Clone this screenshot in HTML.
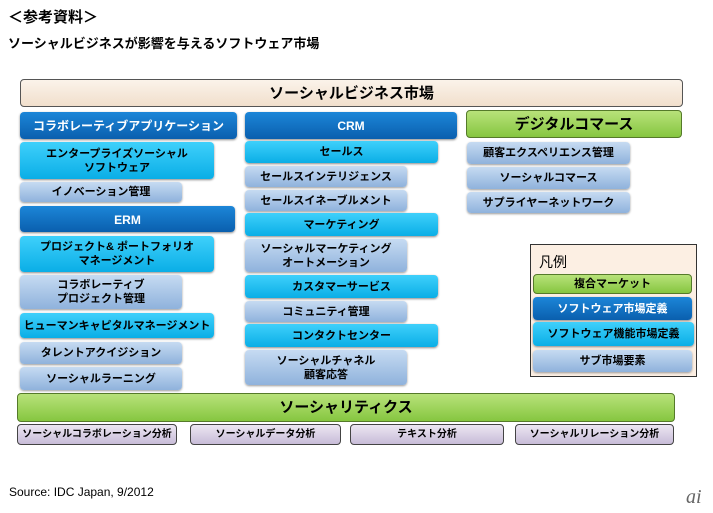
<!DOCTYPE html>
<html><head><meta charset="utf-8"><style>
body{margin:0;width:713px;height:513px;background:#fff;position:relative;overflow:hidden;font-family:"Liberation Sans","Noto Sans CJK JP",sans-serif;}
.b{position:absolute;display:flex;align-items:center;justify-content:center;text-align:center;font-weight:bold;box-sizing:border-box;border-radius:4px;line-height:1.25;font-size:11px;padding-top:2px;}
.d{background:linear-gradient(#1c86d8,#0a5fae);color:#fff;box-shadow:0 1px 2px #888;font-size:12px;}
.c{background:linear-gradient(#3fd0fb,#0aaee6);color:#000;box-shadow:0 1px 2px #888;}
.l{background:linear-gradient(#c6dbf2,#8fb2dc);color:#000;box-shadow:0 1px 2px #999;}
.g{background:linear-gradient(#b8e27a,#86c640);border:1px solid #557a2a;color:#000;}
.p{background:linear-gradient(#ece6f2,#c8bcd8);border:1px solid #444;color:#000;font-size:10px;}
.t{position:absolute;font-weight:bold;color:#000;}
</style></head><body>
<div class="t" style="left:8px;top:6px;font-size:15px;">＜参考資料＞</div>
<div class="t" style="left:8px;top:33px;font-size:13px;">ソーシャルビジネスが影響を与えるソフトウェア市場</div>

<div class="b" style="left:20px;top:79px;width:663px;height:28px;background:linear-gradient(#fbf3ea,#f1dfcc);border:1px solid #555;font-size:15px;">ソーシャルビジネス市場</div>

<div class="b d" style="left:20px;top:112px;width:217px;height:27px;">コラボレーティブアプリケーション</div>
<div class="b d" style="left:245px;top:112px;width:212px;height:27px;">CRM</div>
<div class="b g" style="left:466px;top:110px;width:216px;height:28px;font-size:15px;">デジタルコマース</div>

<div class="b c" style="left:20px;top:142px;width:194px;height:37px;">エンタープライズソーシャル<br>ソフトウェア</div>
<div class="b l" style="left:20px;top:182px;width:162px;height:20px;">イノベーション管理</div>
<div class="b d" style="left:20px;top:206px;width:215px;height:26px;">ERM</div>
<div class="b c" style="left:20px;top:236px;width:194px;height:36px;">プロジェクト&amp; ポートフォリオ<br>マネージメント</div>
<div class="b l" style="left:20px;top:275px;width:162px;height:34px;">コラボレーティブ<br>プロジェクト管理</div>
<div class="b c" style="left:20px;top:313px;width:194px;height:25px;">ヒューマンキャピタルマネージメント</div>
<div class="b l" style="left:20px;top:342px;width:162px;height:22px;">タレントアクイジション</div>
<div class="b l" style="left:20px;top:367px;width:162px;height:23px;">ソーシャルラーニング</div>

<div class="b c" style="left:245px;top:141px;width:193px;height:22px;">セールス</div>
<div class="b l" style="left:245px;top:166px;width:162px;height:21px;">セールスインテリジェンス</div>
<div class="b l" style="left:245px;top:190px;width:162px;height:21px;">セールスイネーブルメント</div>
<div class="b c" style="left:245px;top:213px;width:193px;height:23px;">マーケティング</div>
<div class="b l" style="left:245px;top:239px;width:162px;height:33px;">ソーシャルマーケティング<br>オートメーション</div>
<div class="b c" style="left:245px;top:275px;width:193px;height:23px;">カスタマーサービス</div>
<div class="b l" style="left:245px;top:301px;width:162px;height:21px;">コミュニティ管理</div>
<div class="b c" style="left:245px;top:324px;width:193px;height:23px;">コンタクトセンター</div>
<div class="b l" style="left:245px;top:350px;width:162px;height:35px;">ソーシャルチャネル<br>顧客応答</div>

<div class="b l" style="left:467px;top:142px;width:163px;height:22px;">顧客エクスペリエンス管理</div>
<div class="b l" style="left:467px;top:167px;width:163px;height:22px;">ソーシャルコマース</div>
<div class="b l" style="left:467px;top:192px;width:163px;height:21px;">サプライヤーネットワーク</div>

<div style="position:absolute;left:530px;top:244px;width:167px;height:133px;box-sizing:border-box;border:1px solid #333;background:#fcefe3;"></div>
<div class="t" style="left:539px;top:252px;font-size:14px;font-weight:normal;">凡例</div>
<div class="b g" style="left:533px;top:274px;width:159px;height:20px;">複合マーケット</div>
<div class="b d" style="left:533px;top:297px;width:159px;height:23px;font-size:11px;">ソフトウェア市場定義</div>
<div class="b c" style="left:533px;top:322px;width:161px;height:24px;">ソフトウェア機能市場定義</div>
<div class="b l" style="left:533px;top:350px;width:159px;height:22px;">サブ市場要素</div>

<div class="b g" style="left:17px;top:393px;width:658px;height:29px;font-size:15px;">ソーシャリティクス</div>
<div class="b p" style="left:17px;top:424px;width:160px;height:21px;">ソーシャルコラボレーション分析</div>
<div class="b p" style="left:190px;top:424px;width:151px;height:21px;">ソーシャルデータ分析</div>
<div class="b p" style="left:350px;top:424px;width:154px;height:21px;">テキスト分析</div>
<div class="b p" style="left:515px;top:424px;width:159px;height:21px;">ソーシャルリレーション分析</div>

<div style="position:absolute;left:9px;top:485px;font-size:12px;color:#000;">Source: IDC Japan, 9/2012</div>
<div style="position:absolute;left:686px;top:486px;font-size:20px;font-style:italic;color:#666;font-family:'Liberation Serif',serif;">ai</div>
</body></html>
